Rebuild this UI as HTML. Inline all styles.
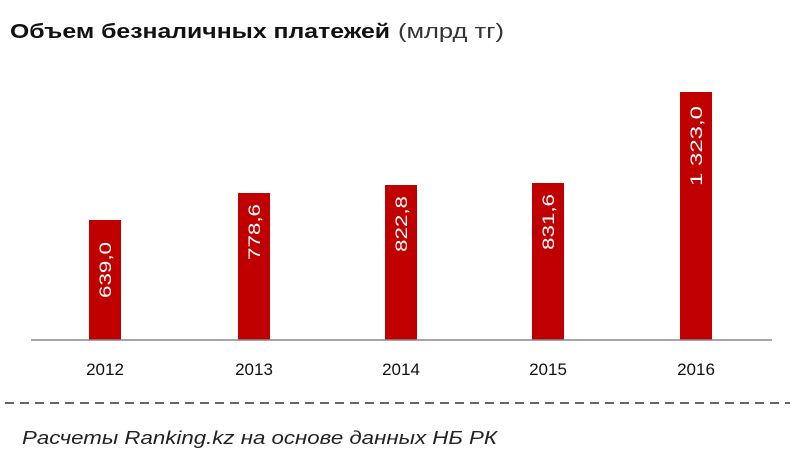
<!DOCTYPE html>
<html><head><meta charset="utf-8"><style>
html,body{margin:0;padding:0;background:#fff;width:800px;height:457px;overflow:hidden}
</style></head><body>
<svg width="800" height="457" xmlns="http://www.w3.org/2000/svg" font-family="'Liberation Sans', sans-serif">
<text x="10" y="38" font-size="20" font-weight="bold" fill="#111" textLength="380" lengthAdjust="spacingAndGlyphs">Объем безналичных платежей</text>
<text x="398" y="38" font-size="20" fill="#333" textLength="106" lengthAdjust="spacingAndGlyphs">(млрд тг)</text>
<g fill="#c00000">
<rect x="89" y="220" width="32" height="120"/>
<rect x="238" y="193" width="32" height="147"/>
<rect x="385" y="185" width="32" height="155"/>
<rect x="532" y="183" width="32" height="157"/>
<rect x="680" y="92" width="32" height="248"/>
</g>
<line x1="31" y1="340" x2="772" y2="340" stroke="#888" stroke-width="1.5"/>
<g fill="#fff" font-size="17" text-anchor="end">
<text transform="translate(111,242) rotate(-90)" textLength="56" lengthAdjust="spacingAndGlyphs">639,0</text>
<text transform="translate(260,204) rotate(-90)" textLength="56" lengthAdjust="spacingAndGlyphs">778,6</text>
<text transform="translate(407,196) rotate(-90)" textLength="56" lengthAdjust="spacingAndGlyphs">822,8</text>
<text transform="translate(554,194) rotate(-90)" textLength="56" lengthAdjust="spacingAndGlyphs">831,6</text>
<text transform="translate(702,106) rotate(-90)" textLength="80" lengthAdjust="spacingAndGlyphs">1 323,0</text>
</g>
<g fill="#111" font-size="17" text-anchor="middle">
<text x="105" y="375">2012</text>
<text x="254" y="375">2013</text>
<text x="401" y="375">2014</text>
<text x="548" y="375">2015</text>
<text x="696" y="375">2016</text>
</g>
<line x1="5" y1="403" x2="790" y2="403" stroke="#333" stroke-width="1.5" stroke-dasharray="9,6"/>
<text x="22" y="444" font-size="18" font-style="italic" fill="#222" textLength="475" lengthAdjust="spacingAndGlyphs">Расчеты Ranking.kz на основе данных НБ РК</text>
</svg>
</body></html>
